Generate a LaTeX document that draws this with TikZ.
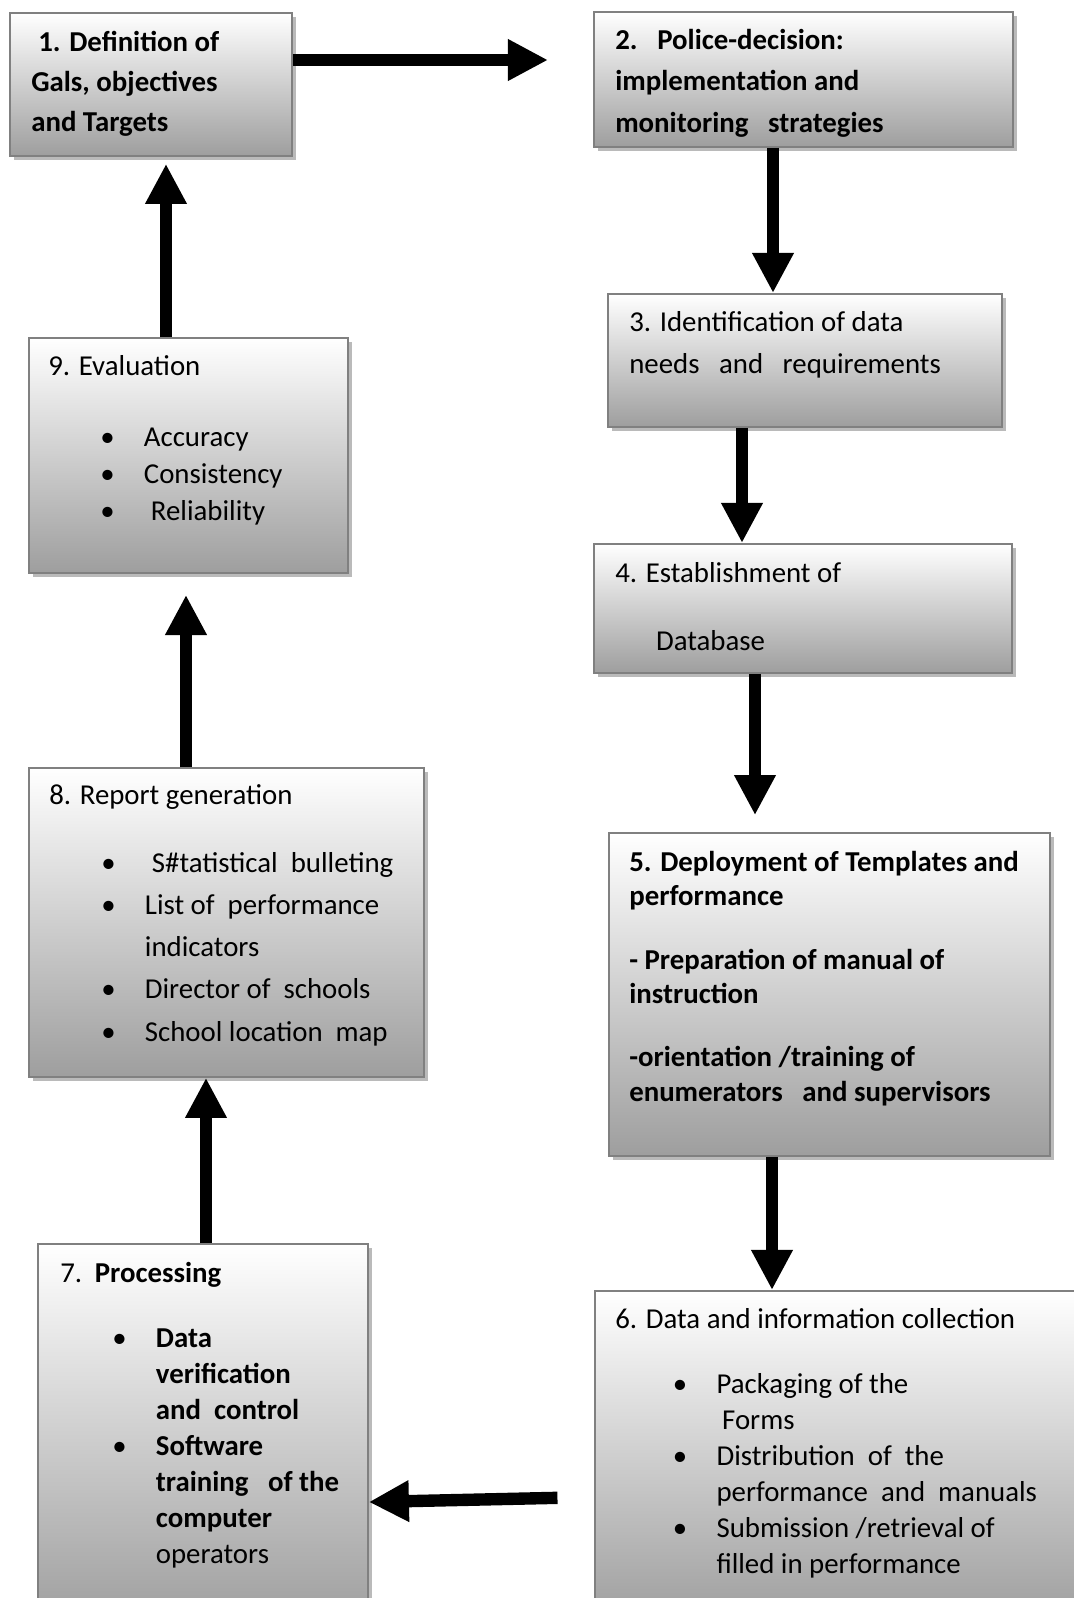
\documentclass[tikz,border=0pt]{standalone}
\usepackage{fontspec}
\setmainfont{Carlito}
\usetikzlibrary{arrows.meta,shadows}

\newcommand{\itm}{\hspace*{37pt}\makebox[31pt][l]{\textbullet}}
\newcommand{\ind}{\hspace*{68pt}}

\tikzset{
  stage/.style={draw=black!50, line width=1.3pt, top color=white, bottom color=black!38,
    inner sep=0pt, anchor=north west,
    drop shadow={shadow xshift=3pt, shadow yshift=-3pt, fill=black!27, opacity=1}},
  boxsize/.style 2 args={minimum width=#1*0.025cm, minimum height=#2*0.025cm},
  txt/.style={anchor=base west, inner sep=0pt, align=left},
  bigarrow/.style={draw, line width=8.8pt, -{Triangle[length=28.5pt, width=27.7pt]}}
}

\begin{document}
\begin{tikzpicture}[x=0.025cm, y=0.025cm]

  \useasboundingbox (0,0) rectangle (1073,-1598);

  % the nine stages
  \node[stage, boxsize={282}{143}] (s1) at (9,-12) {};
  \node[stage, boxsize={419}{135}] (s2) at (593,-11) {};
  \node[stage, boxsize={394}{133}] (s3) at (607,-293) {};
  \node[stage, boxsize={418}{129}] (s4) at (593,-543) {};
  \node[stage, boxsize={441}{323}] (s5) at (608,-832) {};
  \node[stage, boxsize={500}{330}] (s6) at (594,-1290) {};
  \node[stage, boxsize={330}{380}] (s7) at (37,-1243) {};
  \node[stage, boxsize={395}{309}] (s8) at (28,-767) {};
  \node[stage, boxsize={319}{235}] (s9) at (28,-337) {};

  % texts, placed by the baseline of their last line
  \node[txt, font=\bfseries\fontsize{20.5}{28.1}\selectfont] (t1) at (31,-131)
    {\hspace*{5pt}1. Definition of\\Gals, objectives\\and Targets};
  \node[txt, font=\bfseries\fontsize{20.5}{29.2}\selectfont] (t2) at (615,-132)
    {2.\hspace{14pt}Police-decision:\\implementation and\\monitoring~~~strategies};
  \node[txt, font=\fontsize{20.5}{29.2}\selectfont] (t3) at (629,-373)
    {3. Identification of data\\needs~~~and~~~requirements};
  \node[txt, font=\fontsize{20.5}{29.2}\selectfont] (t4) at (615,-650)
    {4. Establishment of\\[18.5pt]\hspace*{29pt}Database};
  \node[txt, font=\bfseries\fontsize{20.5}{24.5}\selectfont] (t5) at (629,-1101)
    {5. Deployment of Templates and\\performance\\[21pt]- Preparation of manual of\\instruction\\[20pt]-orientation /training of\\enumerators~~~and supervisors};
  \node[txt, font=\fontsize{20.5}{25.6}\selectfont] (t6) at (615,-1573)
    {6. Data and information collection\\[20pt]
     \hspace*{4pt}\itm Packaging of the\\
     \hspace*{76pt}Forms\\
     \hspace*{4pt}\itm Distribution~~of~~the\\
     \hspace*{72pt}performance~~and~~manuals\\
     \hspace*{4pt}\itm Submission /retrieval of\\
     \hspace*{72pt}filled in performance};
  \node[txt, font=\fontsize{20.5}{25.6}\selectfont] (t7) at (60,-1563)
    {7.\hspace{9pt}\textbf{Processing}\\[20pt]
     \itm\textbf{Data}\\
     \ind\textbf{verification}\\
     \ind\textbf{and~~control}\\
     \itm\textbf{Software}\\
     \ind\textbf{training~~~of the}\\
     \ind\textbf{computer}\\
     \ind operators};
  \node[txt, font=\fontsize{20.5}{29.9}\selectfont] (t8) at (49,-1041)
    {8. Report generation\\[18.5pt]
     \itm\hspace*{5pt}S\#tatistical~~bulleting\\
     \itm List of~~performance\\
     \ind indicators\\
     \itm Director of~~schools\\
     \itm School location~~map};
  \node[txt, font=\fontsize{20.5}{26}\selectfont] (t9) at (48,-520)
    {9. Evaluation\\[25pt]\itm Accuracy\\\itm Consistency\\\itm\hspace*{5pt}Reliability};

  % the cycle
  \path[every edge/.append style={bigarrow}]
  (s1.east |- 0,-60) edge [shorten >=32pt] (s2.west |- 0,-60)
  (s2.south -| 773,0) edge (s3.north -| 773,0)
  (s3.south -| 742,0) edge (s4.north -| 742,0)
  (s4.south -| 755,0) edge [shorten >=12pt] (s5.north -| 755,0)
  (s5.south -| 772,0) edge (s6.north -| 772,0)
  (s6.west |- 0,-1497) edge [shorten <=26pt] (s7.east |- 0,-1502)
  (s7.north -| 206,0) edge (s8.south -| 206,0)
  (s8.north -| 186,0) edge [shorten >=15pt] (s9.south -| 186,0)
  (s9.north -| 166,0) edge [shorten >=5pt] (s1.south -| 166,0);
\end{tikzpicture}
\end{document}
